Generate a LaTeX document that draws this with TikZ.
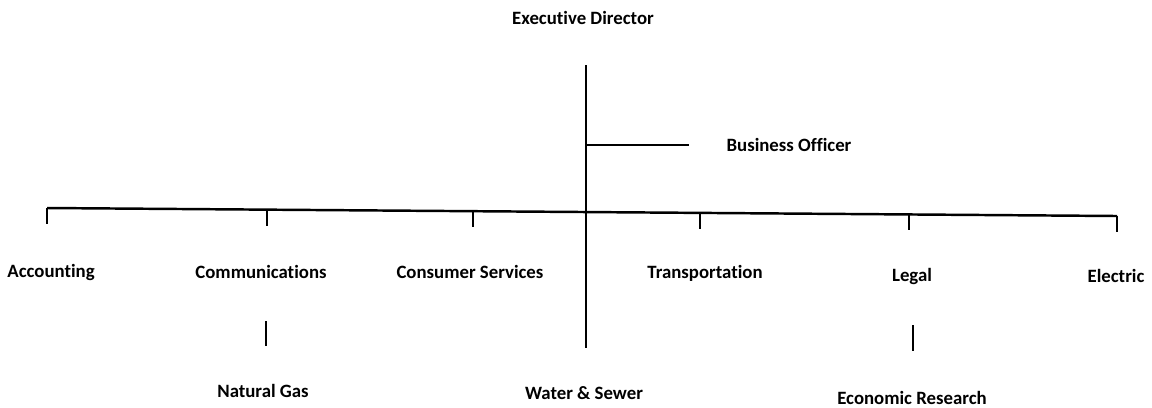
\documentclass[tikz,border=0pt]{standalone}
\usepackage{fontspec}
\setmainfont{Carlito}[Ligatures={NoCommon}]
\begin{document}
\begin{tikzpicture}[x=0.02cm,y=-0.02cm, line width=1.4pt,
  unit/.style={font=\bfseries\fontsize{10.7}{12}\selectfont, inner sep=1pt}]
\useasboundingbox (0,0) rectangle (1152,407);

% top
\node [unit] (exec) at (583,18) {Executive Director};
\node [unit] (busoff) at (789,145) {Business Officer};
\coordinate (top) at (586,65);
\coordinate (bot) at (586,348);
\draw (top) -- (bot);
\draw [shorten >=0.7cm] (top |- busoff) -- (busoff.west);

% departments
\coordinate (left) at (47,208);
\coordinate (right) at (1117,216);
\draw (left) -- (right);
\foreach \n/\x/\y in {acc/47/208, comm/267/209.5, cons/473/211, trans/700/212.5, legal/909/214, elec/1117/216}
  \coordinate (t\n) at (\x,\y);
\foreach \n in {acc, comm, cons, trans, legal, elec}
  \draw (t\n) -- ++(0,16);

\node [unit] (acc) at (51,272) {Accounting};
\node [unit] (comm) at (261,272) {Communications};
\node [unit] (cons) at (470,272) {Consumer Services};
\node [unit] (trans) at (705,273) {Transportation};
\node [unit] (legal) at (912,276) {Legal};
\node [unit] (elec) at (1116,276) {Electric};

% lower row
\node [unit] (gas) at (263,391) {Natural Gas};
\node [unit] (water) at (584,393) {Water \& Sewer};
\node [unit] (econ) at (912,398) {Economic Research};
\coordinate (gasA) at (266,321);
\coordinate (econA) at (913,325);
\draw (gasA) -- ++(0,25);
\draw (econA) -- ++(0,26);
\end{tikzpicture}
\end{document}
